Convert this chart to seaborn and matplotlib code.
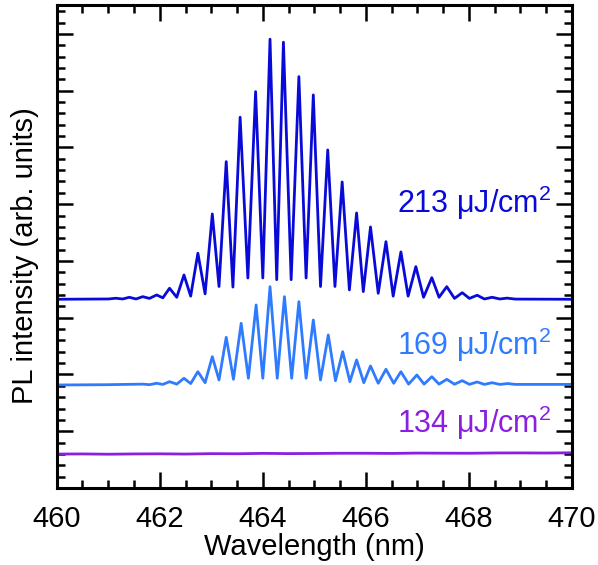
import matplotlib
matplotlib.use("Agg")
import matplotlib.pyplot as plt
from matplotlib.ticker import MultipleLocator
import seaborn as sns
import pandas as pd

# ---- data (wavelength nm, intensity arb. units, offset) ----
wl_213 = [460.0, 461.0, 461.15, 461.28, 461.41, 461.54, 461.67, 461.80, 461.94, 462.06,
          462.19, 462.33, 462.47, 462.60, 462.74, 462.88, 463.02, 463.15, 463.29, 463.42,
          463.56, 463.71, 463.86, 464.00, 464.14, 464.27, 464.40, 464.55, 464.70, 464.84,
          464.98, 465.12, 465.26, 465.40, 465.54, 465.68, 465.82, 465.95, 466.09, 466.24,
          466.39, 466.53, 466.68, 466.82, 466.97, 467.12, 467.28, 467.42, 467.57, 467.72,
          467.87, 468.01, 468.16, 468.30, 468.45, 468.60, 468.74, 468.90, 470.0]
int_213 = [3.325, 3.33, 3.343, 3.33, 3.36, 3.33, 3.371, 3.34, 3.401, 3.35,
           3.519, 3.36, 3.753, 3.38, 4.136, 3.42, 4.828, 3.55, 5.750, 3.54,
           6.532, 3.70, 6.983, 3.70, 7.907, 3.67, 7.854, 3.67, 7.248, 3.70,
           6.925, 3.55, 5.956, 3.55, 5.392, 3.49, 4.846, 3.46, 4.599, 3.43,
           4.340, 3.38, 4.159, 3.38, 3.900, 3.36, 3.706, 3.36, 3.547, 3.34,
           3.441, 3.34, 3.396, 3.33, 3.360, 3.33, 3.345, 3.328, 3.325]

wl_169 = [460.0, 461.0, 461.67, 461.80, 461.94, 462.06, 462.19, 462.33, 462.47, 462.60,
          462.74, 462.88, 463.02, 463.15, 463.29, 463.43, 463.58, 463.72, 463.87, 464.00,
          464.14, 464.28, 464.42, 464.56, 464.70, 464.84, 464.98, 465.12, 465.27, 465.41,
          465.55, 465.69, 465.82, 465.96, 466.09, 466.24, 466.39, 466.54, 466.68, 466.83,
          466.99, 467.13, 467.28, 467.42, 467.57, 467.72, 467.87, 468.01, 468.16, 468.30,
          468.45, 468.60, 468.75, 468.90, 470.0]
int_169 = [1.815, 1.82, 1.83, 1.82, 1.845, 1.825, 1.873, 1.83, 1.933, 1.84,
           2.049, 1.855, 2.314, 1.903, 2.655, 1.915, 2.902, 1.933, 3.225, 1.933,
           3.547, 1.933, 3.371, 1.933, 3.283, 1.933, 2.960, 1.903, 2.696, 1.89,
           2.402, 1.873, 2.256, 1.855, 2.150, 1.845, 2.092, 1.845, 2.049, 1.83,
           1.991, 1.83, 1.961, 1.83, 1.915, 1.828, 1.891, 1.826, 1.868, 1.825,
           1.855, 1.825, 1.84, 1.825, 1.825]

wl_134 = [460.0, 460.5, 461.0, 461.5, 462.0, 462.5, 463.0, 463.5, 464.0, 464.5, 465.0,
          465.5, 466.0, 466.5, 467.0, 467.5, 468.0, 468.5, 469.0, 469.5, 470.0]
int_134 = [0.598, 0.600, 0.595, 0.600, 0.602, 0.598, 0.605, 0.603, 0.610, 0.606, 0.608,
           0.612, 0.612, 0.609, 0.615, 0.613, 0.612, 0.617, 0.618, 0.616, 0.620]

fluences = ["213", "169", "134"]
labels = [f + " \u03bcJ/cm$^2$" for f in fluences]
label_y = [5.02, 2.52, 1.145]
colors = ["#0a0ad8", "#2f7bff", "#8a1fe0"]
x_ticks = [460, 462, 464, 466, 468, 470]

# ---- build table ----
frames = []
for lab, wl, it in [(fluences[0], wl_213, int_213), (fluences[1], wl_169, int_169),
                    (fluences[2], wl_134, int_134)]:
    frames.append(pd.DataFrame({"Wavelength": wl, "Intensity": it, "fluence": lab}))
df = pd.concat(frames, ignore_index=True)

sns.set_theme(style="ticks")
plt.rcParams["font.family"] = ["Liberation Sans", "DejaVu Sans"]
plt.rcParams["mathtext.fontset"] = "custom"
plt.rcParams["mathtext.rm"] = "Liberation Sans"
plt.rcParams["mathtext.default"] = "regular"
plt.rcParams["text.color"] = "black"
plt.rcParams["axes.labelcolor"] = "black"
plt.rcParams["xtick.color"] = "black"
plt.rcParams["ytick.color"] = "black"
plt.rcParams["lines.solid_joinstyle"] = "round"
plt.rcParams["lines.solid_capstyle"] = "round"

fig = plt.figure(figsize=(5.98, 5.65), dpi=100)
ax = fig.add_axes([0.0948, 0.1363, 0.8617, 0.8549])

sns.lineplot(data=df, x="Wavelength", y="Intensity", hue="fluence",
             palette=dict(zip(fluences, colors)), estimator=None, sort=False,
             linewidth=2.0, legend=False, ax=ax)

for lab, yy, c in zip(labels, label_y, colors):
    ax.text(469.61, yy, lab, color=c, fontsize=22, ha="right", va="center")

ax.set_xlim(460, 470)
ax.set_ylim(0, 8.51)
ax.set_xticks(x_ticks)
ax.set_xticklabels([str(t) for t in x_ticks])
ax.xaxis.set_minor_locator(MultipleLocator(0.5))
ax.yaxis.set_major_locator(MultipleLocator(1))
ax.yaxis.set_minor_locator(MultipleLocator(0.2))
ax.tick_params(which="both", direction="in", top=True, right=True, width=1.8, color="black")
ax.tick_params(which="major", length=11.5, labelsize=21, pad=12)
ax.tick_params(which="minor", length=5.5)
ax.tick_params(axis="y", which="both", labelleft=False)
for s in ax.spines.values():
    s.set_linewidth(2.2)
    s.set_color("black")
ax.set_xlabel("Wavelength (nm)", fontsize=21, labelpad=0)
ax.set_ylabel("PL intensity (arb. units)", fontsize=21)
ax.yaxis.set_label_coords(-0.034, 0.482)

fig.savefig("out.png", dpi=100)
